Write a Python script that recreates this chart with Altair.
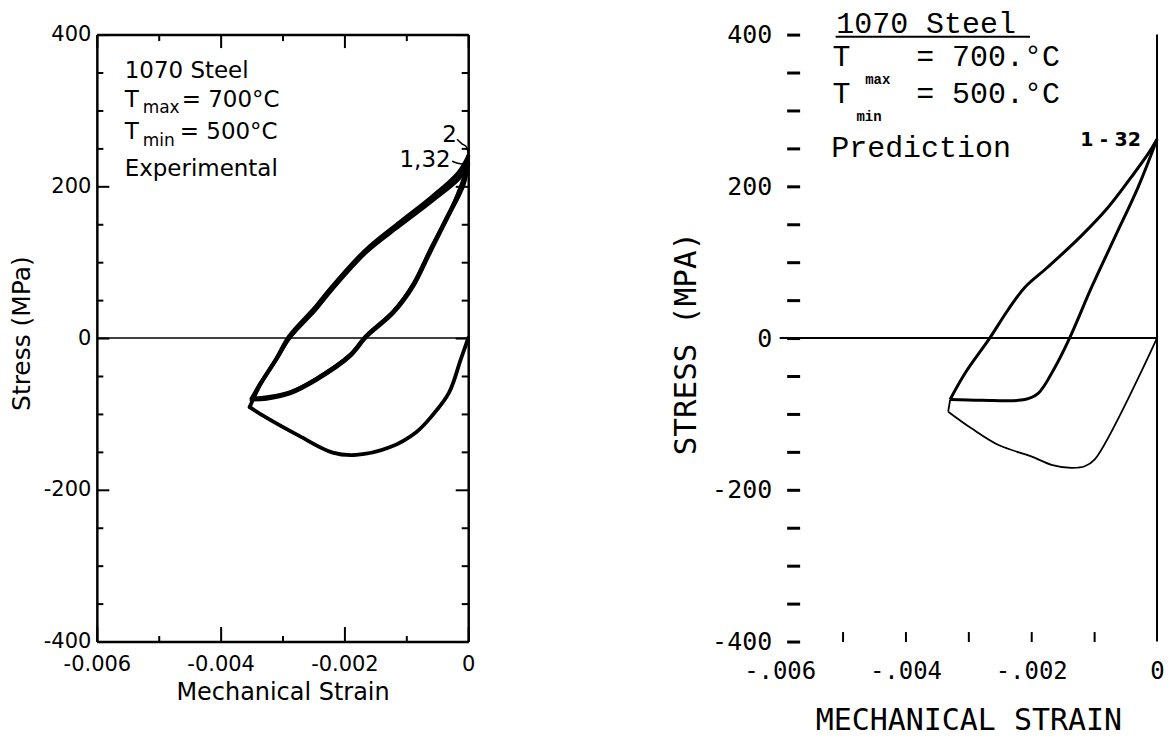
import altair as alt
import pandas as pd

# ---------------- Experimental (left panel) ----------------
exp_c1_strain = [0.0, -0.00012, -0.00031, -0.00058, -0.00084, -0.00127, -0.00181, -0.00219, -0.00273, -0.00326, -0.00353,
                 -0.00337, -0.0031, -0.00289, -0.00246, -0.00219, -0.00165, -0.00111, -0.00058, -0.00015, 0.0,
                 -0.00012, -0.00033, -0.00058, -0.00088, -0.0012, -0.00163, -0.0019, -0.00244, -0.00287, -0.00325, -0.00348]
exp_c1_stress = [0, -28, -72, -102, -124, -144, -154, -151, -129, -105, -91,
                 -63, -28, 0, 38, 65, 113, 148, 181, 210, 228,
                 200, 160, 122, 72, 36, 4, -22, -53, -71, -78, -80]

exp_c2_strain = [-0.0035, -0.00336, -0.0031, -0.0029, -0.00247, -0.0022, -0.00166, -0.00112, -0.00059, -0.00016, 0.0,
                 -0.00008, -0.00036, -0.00063, -0.0009, -0.00122, -0.00165, -0.00192, -0.00246, -0.00289, -0.00326, -0.0035]
exp_c2_stress = [-80, -60, -27, 2, 41, 68, 116, 152, 186, 218, 240,
                 205, 157, 113, 69, 34, 3, -23, -54, -72, -79, -80]

exp_c32_strain = [-0.0035, -0.00337, -0.0031, -0.00289, -0.00246, -0.00219, -0.00165, -0.00111, -0.00058, -0.00015, 0.0,
                  -0.00007, -0.00035, -0.00062, -0.00089, -0.00121, -0.00164, -0.00191, -0.00245, -0.00288, -0.00326, -0.00349]
exp_c32_stress = [-82, -62, -28, 0, 39, 66, 114, 150, 183, 212, 231,
                  203, 156, 112, 68, 33, 2, -24, -55, -73, -80, -81]

# ---------------- Prediction (right panel) ----------------
pred_init_strain = [0.0, -0.00099, -0.00115, -0.00136, -0.00168, -0.002, -0.00252, -0.00295, -0.00332, -0.00329]
pred_init_stress = [0, -160, -169, -171, -167, -156, -141, -119, -97, -81]

pred_loop_strain = [-0.00329, -0.00305, -0.00266, -0.00237, -0.0021, -0.00173, -0.0012, -0.00078, -0.00041, -0.00014, 0.0,
                    -0.0003, -0.00067, -0.00104, -0.00139, -0.00162, -0.00189, -0.0021, -0.00279, -0.00329]
pred_loop_stress = [-81, -46, 0, 37, 67, 94, 135, 172, 212, 243, 262,
                    199, 133, 67, 0, -38, -73, -81, -82, -81]

# axis tick values
x_ticks = [-0.006, -0.005, -0.004, -0.003, -0.002, -0.001, 0.0]
y_ticks = list(range(-400, 401, 50))

# annotation texts
left_labels = ["1070 Steel", "T", "= 700°C", "T", "= 500°C", "Experimental", "2", "1,32"]
left_label_x = [-0.00555, -0.00555, -0.00463, -0.00555, -0.00466, -0.00555, -0.00042, -0.00111]
left_label_y = [343, 305, 305, 262, 262, 213, 259, 225]
left_subs = ["max", "min"]
left_sub_x = [-0.00526, -0.00526]
left_sub_y = [296, 253]
lead2_x = [-0.00018, -0.0001, -0.00003, 0.0]
lead2_y = [262, 256, 252, 241]
lead132_x = [-0.00026, -0.00015, -0.00002]
lead132_y = [233, 230, 229]

right_labels = ["1070 Steel", "T", "=  700.°C", "T", "=  500.°C", "Prediction"]
right_label_x = [-0.00510, -0.00516, -0.00383, -0.00516, -0.00383, -0.00518]
right_label_y = [402, 359, 359, 310, 310, 238]
right_subs = ["max", "min"]
right_sub_x = [-0.00464, -0.00478]
right_sub_y = [335, 286]
cycle_label = ["1 - 32"]
cycle_label_x = [-0.00122]
cycle_label_y = [253]
underline_x = [-0.00511]
underline_x2 = [-0.00202]
underline_y = [397]


def series_df(series):
    """Long table; each series is split into branches where the strain direction reverses."""
    rows = []
    for name, xs, ys in series:
        branch = 0
        direction = 0
        for i, (xv, yv) in enumerate(zip(xs, ys)):
            if i > 0:
                d = 1 if xv > xs[i - 1] else -1
                if direction != 0 and d != direction:
                    branch += 1
                    rows.append({"series": f"{name}-{branch}", "order": i - 1,
                                 "strain": xs[i - 1], "stress": ys[i - 1]})
                direction = d
            rows.append({"series": f"{name}-{branch}", "order": i, "strain": xv, "stress": yv})
    return pd.DataFrame(rows)


exp_df = series_df([("Cycle 1", exp_c1_strain, exp_c1_stress),
                    ("Cycle 2", exp_c2_strain, exp_c2_stress),
                    ("Cycle 32", exp_c32_strain, exp_c32_stress)])
pred_init_df = series_df([("Initial", pred_init_strain, pred_init_stress)])
pred_loop_df = series_df([("Cycles 1-32", pred_loop_strain, pred_loop_stress)])
zero_df = pd.DataFrame({"strain": [-0.006, 0.0], "stress": [0, 0]})
vert_df = pd.DataFrame({"strain": [0.0, 0.0], "stress": [-400, 400]})
leaders_df = pd.DataFrame(
    [{"series": "2", "order": i, "strain": a, "stress": b} for i, (a, b) in enumerate(zip(lead2_x, lead2_y))]
    + [{"series": "1,32", "order": i, "strain": a, "stress": b} for i, (a, b) in enumerate(zip(lead132_x, lead132_y))])

x_scale = alt.Scale(domain=[-0.006, 0], nice=False, zero=False)
y_scale = alt.Scale(domain=[-400, 400], nice=False, zero=False)

LFONT = "DejaVu Sans"
MONO = "DejaVu Sans Mono"
SERIFMONO = "Liberation Mono"

major_x = "round(datum.value*1000) % 2 == 0"
major_y = "datum.value % 200 == 0"


def text_layer(labels, xs, ys, font, size, weight="normal"):
    df = pd.DataFrame({"label": labels, "x": xs, "y": ys})
    return alt.Chart(df).mark_text(font=font, fontSize=size, fontWeight=weight, align="left",
                                   baseline="alphabetic", color="black").encode(
        x=alt.X("x:Q", scale=x_scale, axis=None),
        y=alt.Y("y:Q", scale=y_scale, axis=None),
        text="label:N")


# ---------------- left panel ----------------
axis_lx = alt.Axis(orient="bottom", values=x_ticks, title="Mechanical Strain",
                   labelExpr="datum.value == 0 ? '0' : (" + major_x + " ? '-' + format(abs(datum.value), '.3f') : '')",
                   tickSize={"condition": {"test": major_x, "value": -15}, "value": -6},
                   labelPadding=27, labelFlush=False, labelOverlap=False, grid=False,
                   domainColor="black", domainWidth=2.5, tickColor="black", tickWidth=2,
                   labelFont=LFONT, labelFontSize=21, labelColor="black",
                   titleFont=LFONT, titleFontSize=24, titleFontWeight="normal", titleColor="black",
                   titleBaseline="alphabetic", titleY=58)
axis_ly = alt.Axis(orient="left", values=y_ticks, title="Stress (MPa)",
                   labelExpr="datum.value % 200 == 0 ? '' + datum.value : ''",
                   tickSize={"condition": {"test": major_y, "value": -12}, "value": -6},
                   labelPadding=18, labelFlush=False, labelOverlap=False, grid=False,
                   domainColor="black", domainWidth=2.5, tickColor="black", tickWidth=2,
                   labelFont=LFONT, labelFontSize=21, labelColor="black",
                   titleFont=LFONT, titleFontSize=25, titleFontWeight="normal", titleColor="black",
                   titleBaseline="middle", titleX=-75, titleY=299, titleAngle=270)
axis_tx = alt.Axis(orient="top", values=x_ticks, title=None, labels=False,
                   tickSize={"condition": {"test": major_x, "value": -13}, "value": -6},
                   grid=False, domainColor="black", domainWidth=2.5, tickColor="black", tickWidth=2)
axis_ry = alt.Axis(orient="right", values=y_ticks, title=None, labels=False,
                   tickSize={"condition": {"test": major_y, "value": -13}, "value": -7},
                   grid=False, domainColor="black", domainWidth=2.5, tickColor="black", tickWidth=2)

exp_lines = alt.Chart(exp_df).mark_line(color="black", strokeWidth=3.8, strokeJoin="round", strokeCap="round",
                                        interpolate="catmull-rom").encode(
    x=alt.X("strain:Q", scale=x_scale, axis=axis_lx),
    y=alt.Y("stress:Q", scale=y_scale, axis=axis_ly),
    detail="series:N", order="order:Q")
left_zero = alt.Chart(zero_df).mark_line(color="black", strokeWidth=1.5).encode(
    x=alt.X("strain:Q", scale=x_scale, axis=axis_tx),
    y=alt.Y("stress:Q", scale=y_scale, axis=axis_ry))
left_leaders = alt.Chart(leaders_df).mark_line(color="black", strokeWidth=1.5, interpolate="catmull-rom").encode(
    x=alt.X("strain:Q", scale=x_scale, axis=None),
    y=alt.Y("stress:Q", scale=y_scale, axis=None),
    detail="series:N", order="order:Q")

left = alt.layer(
    exp_lines, left_zero, left_leaders,
    text_layer(left_labels, left_label_x, left_label_y, LFONT, 23),
    text_layer(left_subs, left_sub_x, left_sub_y, LFONT, 17),
).resolve_axis(x="independent", y="independent").properties(width=372, height=608)

# ---------------- right panel ----------------
axis_rx = alt.Axis(orient="bottom", values=x_ticks, title="MECHANICAL STRAIN", offset=-10,
                   labelExpr="datum.value == 0 ? '0' : (" + major_x + " ? '-.' + substring(format(abs(datum.value), '.3f'), 2) : '')",
                   tickSize=10, tickWidth=2, tickColor="black",
                   tickOpacity={"condition": {"test": "datum.value < -0.0055 || datum.value > -0.0005", "value": 0}, "value": 1},
                   domain=False, grid=False, labelPadding=18, labelFlush=False, labelOverlap=False,
                   labelFont=MONO, labelFontSize=24, labelColor="black",
                   titleFont=MONO, titleFontSize=30, titleFontWeight="normal", titleColor="black",
                   titleBaseline="alphabetic", titleY=98)
axis_rr = alt.Axis(orient="left", values=y_ticks, title="STRESS  (MPA)", offset=-20,
                   labelExpr="datum.value % 200 == 0 ? '' + datum.value : ''",
                   tickSize=13, tickWidth=3, tickColor="black",
                   domain=False, grid=False, labelPadding=15, labelFlush=False, labelOverlap=False,
                   labelFont=MONO, labelFontSize=25, labelColor="black",
                   titleFont=MONO, titleFontSize=31, titleFontWeight="normal", titleColor="black",
                   titleBaseline="middle", titleX=-113, titleY=309, titleAngle=270)

pred_loop = alt.Chart(pred_loop_df).mark_line(color="black", strokeWidth=3, strokeJoin="round",
                                              interpolate="catmull-rom").encode(
    x=alt.X("strain:Q", scale=x_scale, axis=axis_rx),
    y=alt.Y("stress:Q", scale=y_scale, axis=axis_rr),
    detail="series:N", order="order:Q")
pred_init = alt.Chart(pred_init_df).mark_line(color="black", strokeWidth=1.8, strokeJoin="round",
                                              interpolate="catmull-rom").encode(
    x=alt.X("strain:Q", scale=x_scale, axis=None),
    y=alt.Y("stress:Q", scale=y_scale, axis=None),
    detail="series:N", order="order:Q")
right_zero = alt.Chart(zero_df).mark_line(color="black", strokeWidth=2).encode(
    x=alt.X("strain:Q", scale=x_scale, axis=None),
    y=alt.Y("stress:Q", scale=y_scale, axis=None))
right_vert = alt.Chart(vert_df).mark_line(color="black", strokeWidth=2).encode(
    x=alt.X("strain:Q", scale=x_scale, axis=None),
    y=alt.Y("stress:Q", scale=y_scale, axis=None))
underline = alt.Chart(pd.DataFrame({"x": underline_x, "x2": underline_x2, "y": underline_y})).mark_rule(
    color="black", strokeWidth=2).encode(
    x=alt.X("x:Q", scale=x_scale, axis=None), x2="x2:Q",
    y=alt.Y("y:Q", scale=y_scale, axis=None))

right = alt.layer(
    pred_loop, pred_init, right_zero, right_vert, underline,
    text_layer(right_labels, right_label_x, right_label_y, SERIFMONO, 30),
    text_layer(right_subs, right_sub_x, right_sub_y, SERIFMONO, 14, "bold"),
    text_layer(cycle_label, cycle_label_x, cycle_label_y, LFONT, 19, "bold"),
).resolve_axis(x="independent", y="independent").properties(width=378, height=608)

chart = alt.hconcat(left, right, spacing=312, bounds="flush").properties(
    padding={"left": 2, "top": 0, "right": 0, "bottom": 6},
    background="white",
).configure_view(strokeOpacity=0)

chart.save("out.html", embed_options={"renderer": "svg", "actions": False})
